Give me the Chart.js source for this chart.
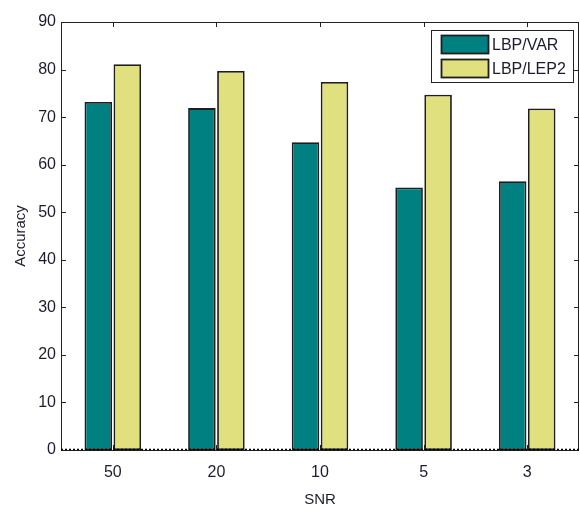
<!DOCTYPE html>
<html>
<head>
<meta charset="utf-8">
<script src="https://cdn.jsdelivr.net/npm/chart.js@4/dist/chart.umd.min.js"></script>
<style>
  html, body { margin:0; padding:0; background:#fff; }
  #wrap { width:580px; height:506px; }
</style>
</head>
<body>
<div id="wrap"><canvas id="c" width="580" height="506"></canvas></div>
<script>
// data
const snrLabels = ['50', '20', '10', '5', '3'];
const lbpVar  = [73.2, 71.9, 64.7, 55.2, 56.5];
const lbpLep2 = [81.1, 79.7, 77.4, 74.7, 71.8];
const yTicks  = [0, 10, 20, 30, 40, 50, 60, 70, 80, 90];

const INK = '#1c1c30', AXIS = '#222';
const FONT = "'Liberation Sans', Arial, sans-serif";

// MATLAB-style box: frame, inward ticks on all sides, dotted baseline
const boxAxes = {
  id:'boxAxes',
  afterDatasetsDraw(chart) {
    const { ctx, chartArea:a, scales:{ x, y } } = chart;
    ctx.save();
    ctx.strokeStyle = AXIS; ctx.lineWidth = 1;
    ctx.beginPath();
    y.ticks.forEach((t, i) => {
      const py = Math.round(y.getPixelForTick(i)) + .5;
      ctx.moveTo(a.left, py);  ctx.lineTo(a.left + 5, py);
      ctx.moveTo(a.right, py); ctx.lineTo(a.right - 5, py);
    });
    x.ticks.forEach((t, i) => {
      const px = Math.round(x.getPixelForTick(i)) + .5;
      ctx.moveTo(px, a.top);    ctx.lineTo(px, a.top + 5);
      ctx.moveTo(px, a.bottom); ctx.lineTo(px, a.bottom - 5);
    });
    ctx.stroke();
    ctx.strokeRect(Math.round(a.left) + .5, Math.round(a.top) + .5, Math.round(a.right - a.left) - 1, Math.round(a.bottom - a.top));
    // dotted zero baseline
    const y0 = Math.round(y.getPixelForValue(0)) - .5;
    ctx.strokeStyle = '#000'; ctx.lineWidth = 1.6; ctx.setLineDash([2, 2]);
    ctx.beginPath(); ctx.moveTo(a.left, y0); ctx.lineTo(a.right, y0); ctx.stroke();
    ctx.restore();
  }
};

// boxed legend inside the plot, top right
const boxLegend = {
  id:'boxLegend',
  afterDraw(chart) {
    const { ctx } = chart;
    const bx = 431.5, by = 30.5, bw = 142, bh = 52;
    ctx.save();
    ctx.fillStyle = '#fff'; ctx.fillRect(bx, by, bw, bh);
    ctx.strokeStyle = AXIS; ctx.lineWidth = 1; ctx.strokeRect(bx, by, bw, bh);
    ctx.font = '16px ' + FONT; ctx.textBaseline = 'middle';
    chart.data.datasets.forEach((ds, i) => {
      const sy = 35.5 + i * 24;
      ctx.fillStyle = ds.backgroundColor; ctx.fillRect(441.5, sy, 47, 18);
      ctx.strokeStyle = ds.borderColor; ctx.lineWidth = 1.8; ctx.strokeRect(441.5, sy, 47, 18);
      ctx.fillStyle = INK; ctx.fillText(ds.label, 492, sy + 10);
    });
    ctx.restore();
  }
};

new Chart(document.getElementById('c'), {
  type:'bar',
  data:{ labels:snrLabels, datasets:[
    { label:'LBP/VAR',  data:lbpVar,  backgroundColor:'#008080', borderColor:'#1e1e1e', borderWidth:1.8, borderSkipped:false },
    { label:'LBP/LEP2', data:lbpLep2, backgroundColor:'#e0e07f', borderColor:'#1e1e1e', borderWidth:1.8, borderSkipped:false }
  ]},
  options:{
    responsive:false, animation:false, devicePixelRatio:1,
    categoryPercentage:.56, barPercentage:.95,
    layout:{ padding:{ top:22, right:1, left:0, bottom:0 } },
    plugins:{ legend:{ display:false }, tooltip:{ enabled:false } },
    scales:{
      x:{
        grid:{ display:false, drawTicks:false }, border:{ display:false },
        ticks:{ color:INK, font:{ family:FONT, size:16 }, padding:13, maxRotation:0 },
        title:{ display:true, text:'SNR', color:INK, font:{ family:FONT, size:15, lineHeight:.8 }, padding:0 },
        afterFit: s => { s.height = 56; }
      },
      y:{
        min:0, max:90,
        afterBuildTicks: s => { s.ticks = yTicks.map(v => ({ value:v })); },
        grid:{ display:false, drawTicks:false }, border:{ display:false },
        ticks:{ color:INK, font:{ family:FONT, size:16 }, padding:5 },
        title:{ display:true, text:'Accuracy', color:INK, font:{ family:FONT, size:15, lineHeight:1.2 }, padding:{ top:12, bottom:0 } },
        afterFit: s => { s.width = 61; }
      }
    }
  },
  plugins:[boxAxes, boxLegend]
});
</script>
</body>
</html>
